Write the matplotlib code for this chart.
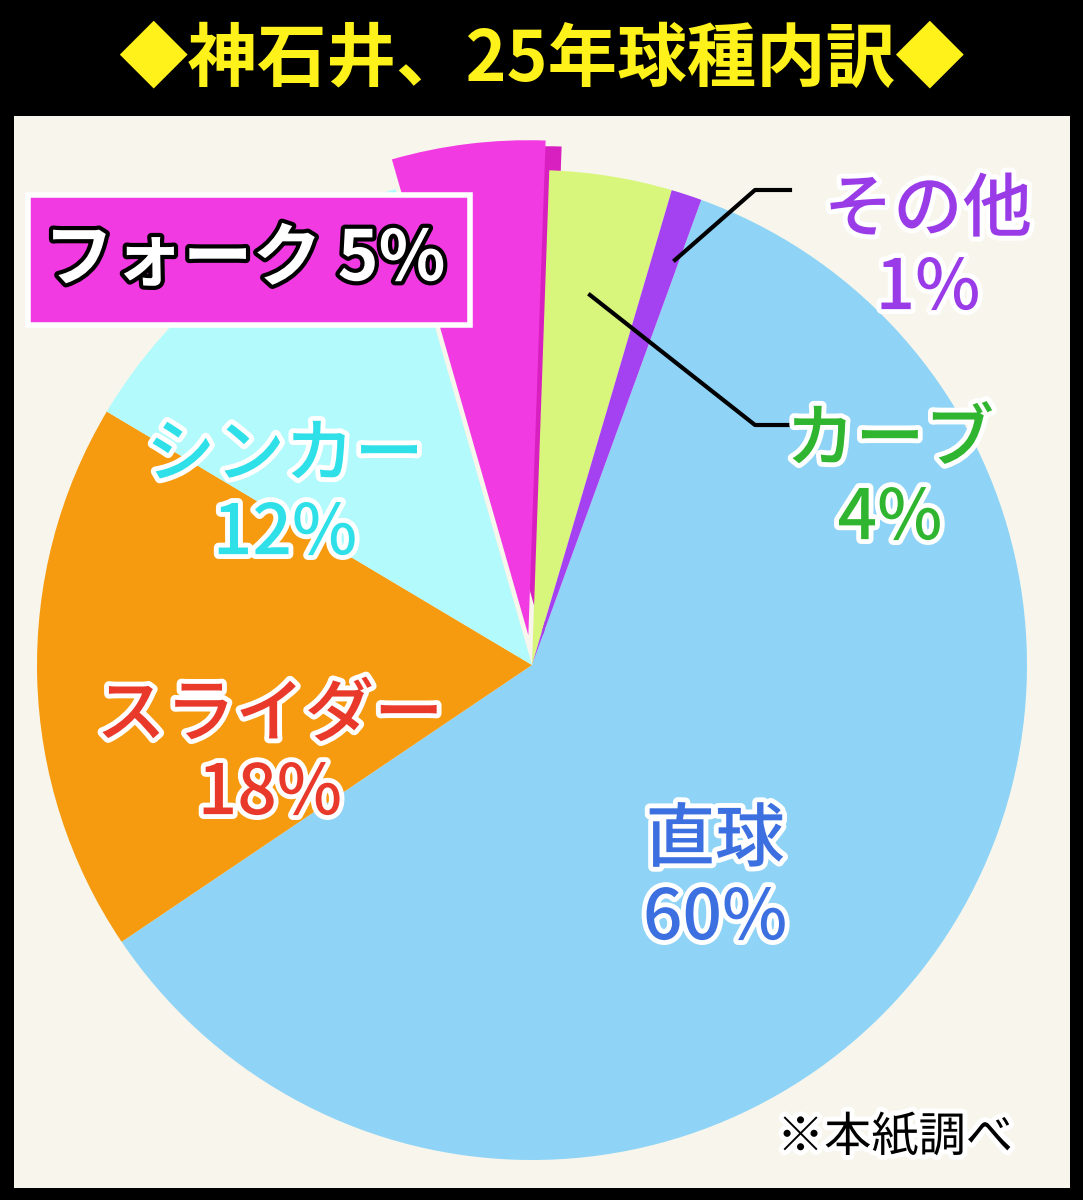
import matplotlib.pyplot as plt
import matplotlib.patheffects as pe
from matplotlib.patches import Rectangle, Wedge

plt.rcParams['font.family'] = ['Noto Sans CJK JP', 'DejaVu Sans']

labels = ['直球', 'スライダー', 'シンカー', 'フォーク', 'カーブ', 'その他']
values = [60, 18, 12, 5, 4, 1]
colors = ['#8fd4f6', '#f69b10', '#b2fafb', '#f23ae2', '#d8f57c', '#a441f0']
title = '◆神石井、25年球種内訳◆'

W, H = 1083, 1200
fig = plt.figure(figsize=(W / 100, H / 100), dpi=100)
fig.patch.set_facecolor('black')
ax = fig.add_axes([0, 0, 1, 1])
ax.axis('off')

panel = Rectangle((14, 12), 1056, 1072, facecolor='#f8f6ec', edgecolor='none', zorder=0)
ax.add_patch(panel)

cx, cy, r = 532, 535, 495
# explode is not scaled by radius in matplotlib, so give it in pixels
wedges, _ = ax.pie(values, colors=colors, startangle=70, counterclock=False,
                   center=(cx, cy), radius=r, explode=[0, 0, 0, 30, 0, 0],
                   wedgeprops=dict(linewidth=0), frame=True)
ax.set_xlim(0, W)
ax.set_ylim(0, H)
ax.set_aspect('auto')
ax.axis('off')
for w in wedges:
    w.set_clip_path(panel)
# 3D side of the fork slice
fw = wedges[3]
side = Wedge((fw.center[0] + 16, fw.center[1] - 6), r, fw.theta1, fw.theta2,
             facecolor='#d81fc0', edgecolor='none', zorder=0.9)
side.set_clip_path(panel)
ax.add_patch(side)
fw.set_zorder(1.1)

ax.text(W / 2, 1140, title, color='#fff21a', fontsize=50, fontweight='bold',
        ha='center', va='center')

stroke = [pe.withStroke(linewidth=7, foreground='white')]
def lab(x, y, s, c, fs=50):
    ax.text(x, y, s, color=c, fontsize=fs, ha='center', va='center', fontweight='medium',
            linespacing=1.15, path_effects=stroke, zorder=5)

lab(928, 950, 'その他\n1%', '#9a3be8')
lab(890, 720, 'カーブ\n4%', '#2fb52f')
lab(715, 320, '直球\n60%', '#3c6fe0')
lab(270, 445, 'スライダー\n18%', '#e8392a')
lab(285, 705, 'シンカー\n12%', '#2fe0e8')

ax.plot([675, 755, 790], [940, 1010, 1010], color='black', lw=3, zorder=4)
ax.plot([590, 755, 790], [905, 775, 775], color='black', lw=3, zorder=4)

ax.add_patch(Rectangle((28, 875), 442, 130, facecolor='#f23ae2', edgecolor='white', lw=4, zorder=4))
ax.text(245, 940, 'フォーク 5%', color='white', fontsize=50, fontweight='bold', ha='center',
        va='center', path_effects=[pe.withStroke(linewidth=6, foreground='black')], zorder=5)

ax.text(895, 62, '※本紙調べ', color='black', fontsize=34, ha='center', va='center',
        path_effects=stroke, zorder=5)

fig.savefig('out.png', dpi=100, facecolor='black')
